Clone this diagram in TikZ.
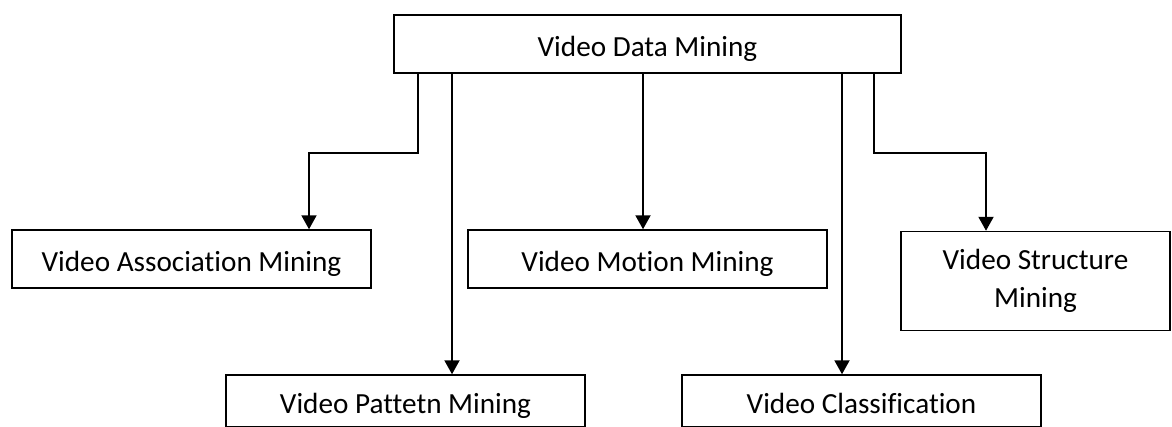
\documentclass[tikz,border=0pt]{standalone}
\usepackage{fontspec}
\setmainfont[Ligatures=NoCommon]{Carlito}
\usetikzlibrary{arrows.meta}

\begin{document}
\begin{tikzpicture}[x=1pt,y=-1pt,
    box/.style={draw,line width=1.5pt,inner sep=0pt,minimum width=359pt,minimum height=58pt,
        text height=28pt,text depth=2.6pt,
        align=center,font=\fontsize{29.2}{38.5}\selectfont},
    arr/.style={line width=2pt,-{Triangle[length=14pt,width=15pt]}}]
    \useasboundingbox (0,0) rectangle (1172,426);
    \node[box,minimum width=507pt] (vdm) at (647.5,44) {Video Data Mining};
    \node[box] (assoc) at (191.5,259) {Video Association Mining};
    \node[box] (motion) at (647.5,259) {Video Motion Mining};
    \node[box,text height=,text depth=,minimum width=269pt,minimum height=99pt] (struct) at (1035.5,281) {Video Structure\\Mining};
    \node[box,minimum height=52pt] (pattern) at (405.5,401) {Video Pattetn Mining};
    \node[box,minimum height=52pt] (classif) at (861.5,401) {Video Classification};
    \draw[arr] ([xshift=-229.5pt]vdm.south) -- ++(0,79) -| ([xshift=117.5pt]assoc.north);
    \draw[arr] ([xshift=-195.5pt]vdm.south) -- ([xshift=46.5pt]pattern.north);
    \draw[arr] ([xshift=-4.5pt]vdm.south) -- ([xshift=-4.5pt]motion.north);
    \draw[arr] ([xshift=194.5pt]vdm.south) -- ([xshift=-19.5pt]classif.north);
    \draw[arr] ([xshift=226.5pt]vdm.south) -- ++(0,79) -| ([xshift=-49.5pt]struct.north);
\end{tikzpicture}
\end{document}
